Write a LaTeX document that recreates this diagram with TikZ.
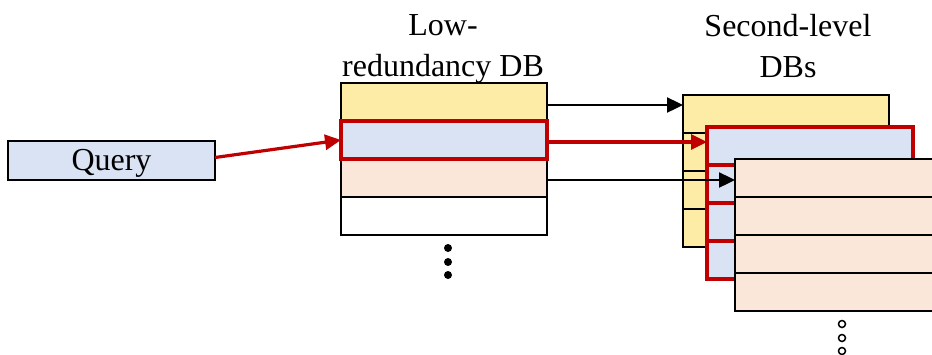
\documentclass[tikz,border=0pt]{standalone}
\usepackage{fontspec}
\setmainfont{Liberation Serif}
\usetikzlibrary{positioning, arrows.meta, calc}
\definecolor{dbYellow}{HTML}{FCECA6}
\definecolor{dbBlue}{HTML}{DAE3F3}
\definecolor{dbOrange}{HTML}{FBE7D9}
\definecolor{hitRed}{HTML}{C00000}

\begin{document}
\begin{tikzpicture}[x=1pt, y=-1pt, node distance=0pt,
  row/.style={draw=black, line width=2.4pt, minimum width=206pt, minimum height=38pt, inner sep=0pt, outer sep=0pt},
  hit/.style={row, draw=hitRed, line width=4pt},
  title/.style={font=\fontsize{32}{41}\selectfont, align=center},
  link/.style={line width=2.4pt, -{Triangle[length=16pt, width=15pt]}},
  redlink/.style={link, line width=3.2pt, color=hitRed}]
\path[use as bounding box, clip] (0,0) rectangle (932,354);
% query
\node[row, fill=dbBlue, minimum width=207pt, minimum height=39pt, text height=22pt, text depth=3pt, font=\fontsize{32}{38}\selectfont] (query) at (111.5,160.5) {Query};
% low-redundancy DB
\node[row, fill=dbYellow] (lr1) at (444,102) {};
\node[row, fill=dbOrange, below=of lr1, yshift=-38pt] (lr3) {};
\node[row, fill=white, below=of lr3] (lr4) {};
\node[hit, fill=dbBlue, below=of lr1] (lr2) {};
\node[title] (lrtitle) at (443,49) {Low-\\redundancy DB};
\foreach \d in {13,27,40} \fill (lr4.south) ++(4,\d) circle (4pt);
% second-level DBs
\node[row, fill=dbYellow] (sa1) at (786,114) {};
\node[row, fill=dbYellow, below=of sa1] (sa2) {};
\node[row, fill=dbYellow, below=of sa2] (sa3) {};
\node[row, fill=dbYellow, below=of sa3] (sa4) {};
\node[hit, fill=dbBlue] (sb1) at (810,146) {};
\node[hit, fill=dbBlue, below=of sb1] (sb2) {};
\node[hit, fill=dbBlue, below=of sb2] (sb3) {};
\node[hit, fill=dbBlue, below=of sb3] (sb4) {};
\node[row, fill=dbOrange] (sc1) at (838,178) {};
\node[row, fill=dbOrange, below=of sc1] (sc2) {};
\node[row, fill=dbOrange, below=of sc2] (sc3) {};
\node[row, fill=dbOrange, below=of sc3] (sc4) {};
\node[title] (sltitle) at (788,46) {Second-level\\DBs};
\foreach \d in {13,27,40} \draw[line width=1.5pt, fill=white] (sc4.south) ++(4,\d) circle (3.5pt);
% links
\draw[redlink] (query.east) ++(0,-3) -- (lr2.west);
\draw[link] (lr1.east) ++(0,3) -- ($(lr1.east -| sa1.west)+(0,3)$);
\draw[redlink] (lr2.east) ++(0,2) -- ($(lr2.east -| sb1.west)+(0,2)$);
\draw[link] (lr3.east) ++(0,2) -- ($(lr3.east -| sc1.west)+(0,2)$);
\end{tikzpicture}
\end{document}
